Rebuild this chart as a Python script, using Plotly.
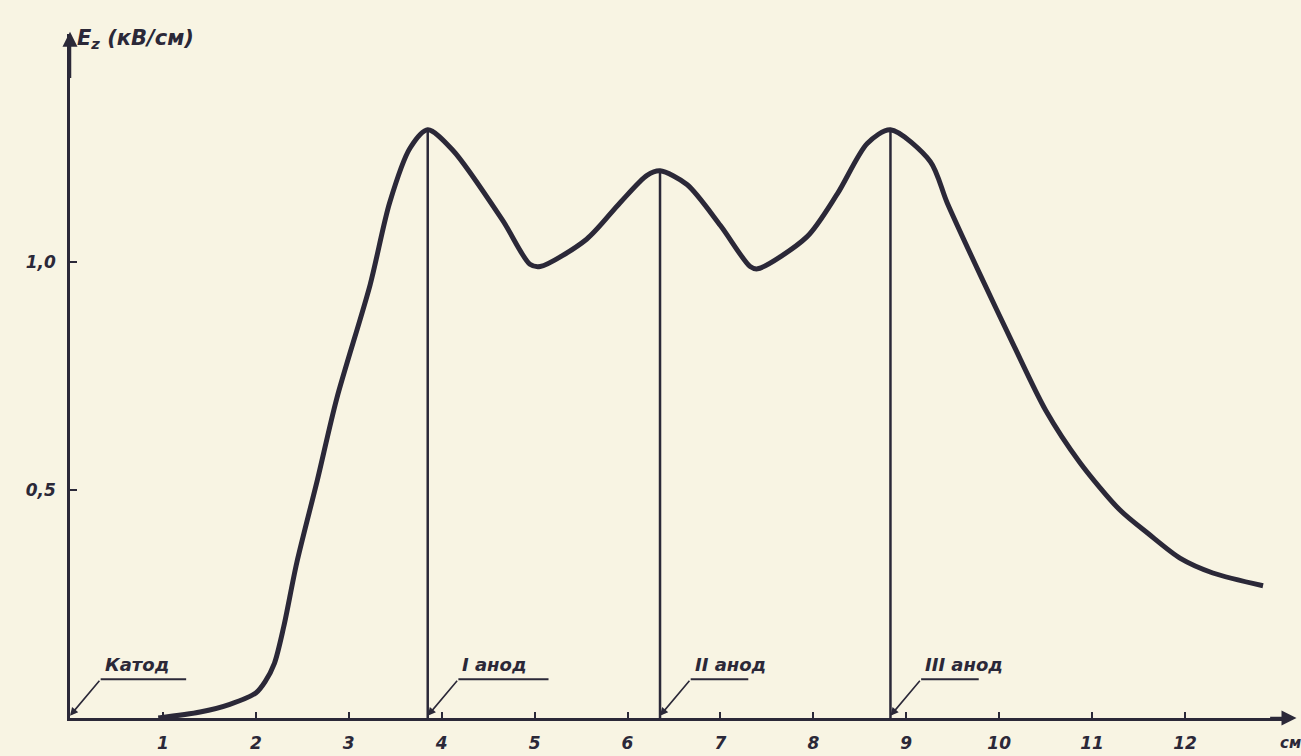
import numpy as np
import plotly.graph_objects as go

# ---- data ----
x_curve = [0.95, 1.4, 1.72, 2.0, 2.1, 2.2, 2.3, 2.44, 2.66, 2.87, 3.23, 3.44, 3.66, 3.85,
           4.12, 4.66, 4.95, 5.06, 5.56, 5.92, 6.21, 6.35, 6.64, 7.0, 7.32, 7.4,
           7.93, 8.26, 8.58, 8.83, 9.26, 9.44, 9.8, 10.15, 10.5, 10.87, 11.3,
           11.6, 11.95, 12.3, 12.84]
y_curve = [0.0, 0.013, 0.03, 0.055, 0.08, 0.12, 0.20, 0.34, 0.52, 0.70, 0.95, 1.13, 1.25, 1.29,
           1.245, 1.09, 0.995, 0.99, 1.05, 1.13, 1.19, 1.20, 1.17, 1.08, 0.99, 0.985,
           1.055, 1.15, 1.26, 1.29, 1.22, 1.13, 0.97, 0.82, 0.675, 0.56, 0.456,
           0.405, 0.35, 0.318, 0.29]

electrode_names = ["Катод", "I анод", "II анод", "III анод"]
electrode_x = [0.0, 3.85, 6.35, 8.83]
anode_tops = [1.29, 1.20, 1.29]
label_underline_len = [1.25, 1.30, 0.95, 0.95]

x_ticks = list(range(1, 13))
x_tick_labels = [str(v) for v in x_ticks]
y_ticks = [0.5, 1.0]
y_tick_labels = ["0,5", "1,0"]

INK = "#2b2838"
BG = "#f8f4e3"
FONT = dict(family="DejaVu Sans", size=17, color=INK, weight="bold", style="italic")

fig = go.Figure()

fig.add_trace(go.Scatter(
    x=x_curve, y=y_curve, mode="lines",
    line=dict(color=INK, width=5, shape="spline", smoothing=0.8),
    hoverinfo="skip", showlegend=False))

for ax_, top in zip(electrode_x[1:], anode_tops):
    fig.add_trace(go.Scatter(
        x=[ax_, ax_], y=[0, top], mode="lines",
        line=dict(color=INK, width=2.5), hoverinfo="skip", showlegend=False))

# electrode labels with leader lines
for name, ex, ul in zip(electrode_names, electrode_x, label_underline_len):
    knee_x = ex + 0.33
    knee_y = 0.085
    end_x = ex + ul
    fig.add_annotation(x=ex, y=0.005, ax=knee_x, ay=knee_y, axref="x", ayref="y",
                       xref="x", yref="y", text="", showarrow=True,
                       arrowhead=2, arrowsize=1, arrowwidth=1.6, arrowcolor=INK)
    fig.add_shape(type="line", x0=knee_x, y0=knee_y, x1=end_x, y1=knee_y,
                  xref="x", yref="y", line=dict(color=INK, width=2))
    fig.add_annotation(x=knee_x + 0.02, y=knee_y + 0.004, xref="x", yref="y",
                       text=name, showarrow=False, xanchor="left", yanchor="bottom",
                       font=dict(FONT, size=18))

# axis arrows
fig.add_annotation(x=0, y=1.505, ax=0, ay=1.40, axref="x", ayref="y", xref="x", yref="y",
                   text="", showarrow=True, arrowhead=2, arrowsize=1.2, arrowwidth=2.5,
                   arrowcolor=INK)
fig.add_annotation(x=13.2, y=0, ax=12.9, ay=0, axref="x", ayref="y", xref="x", yref="y",
                   text="", showarrow=True, arrowhead=2, arrowsize=1.2, arrowwidth=2.5,
                   arrowcolor=INK)

# axis titles
fig.add_annotation(x=0.05, y=1.49, xref="x", yref="y", xanchor="left", yanchor="middle",
                   text="E<sub>z</sub> (кВ/см)", showarrow=False, font=dict(FONT, size=21))
fig.add_annotation(x=0.99, y=-0.036, xref="paper", yref="paper", xanchor="left",
                   yanchor="middle", text="см", showarrow=False,
                   font=dict(FONT, size=15))

fig.update_xaxes(range=[0, 13.13], tickvals=x_ticks, ticktext=x_tick_labels,
                 ticks="inside", ticklen=6, tickwidth=2, tickcolor=INK,
                 showline=True, linecolor=INK, linewidth=2.5, automargin=False,
                 showgrid=False, zeroline=False, tickfont=FONT, ticklabelstandoff=8)
fig.update_yaxes(range=[0, 1.5], tickvals=y_ticks, ticktext=y_tick_labels,
                 ticks="inside", ticklen=7, tickwidth=2, tickcolor=INK,
                 showline=True, linecolor=INK, linewidth=2.5, automargin=False,
                 showgrid=False, zeroline=False, tickfont=FONT, ticklabelstandoff=8)

fig.update_layout(width=1301, height=756, paper_bgcolor=BG, plot_bgcolor=BG,
                  margin=dict(l=70, r=11, t=34, b=38, autoexpand=False), showlegend=False)

fig.write_html("out.html", config={"displayModeBar": False},
               post_script="document.body.style.margin='0px';"
                           "document.body.style.background='#f8f4e3';")
